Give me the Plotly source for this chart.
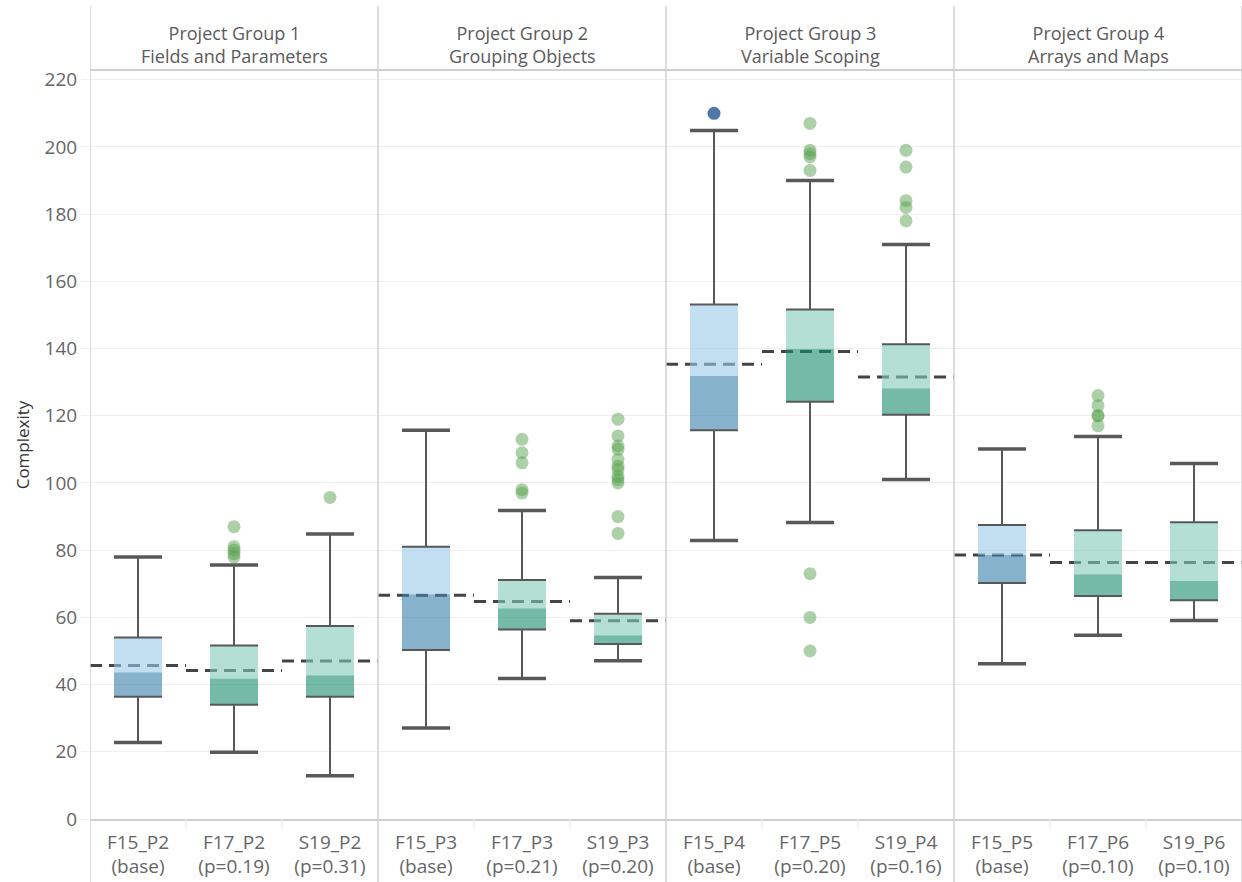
import plotly.graph_objects as go

# ---------------- data ----------------
groups = ["Project Group 1<br>Fields and Parameters",
          "Project Group 2<br>Grouping Objects",
          "Project Group 3<br>Variable Scoping",
          "Project Group 4<br>Arrays and Maps"]
labels = ["F15_P2", "F17_P2", "S19_P2",
          "F15_P3", "F17_P3", "S19_P3",
          "F15_P4", "F17_P5", "S19_P4",
          "F15_P5", "F17_P6", "S19_P6"]
notes = ["(base)", "(p=0.19)", "(p=0.31)",
         "(base)", "(p=0.21)", "(p=0.20)",
         "(base)", "(p=0.20)", "(p=0.16)",
         "(base)", "(p=0.10)", "(p=0.10)"]

lower  = [22.8, 19.9, 12.9, 27.1, 41.8, 47.1,  82.9,  88.2, 101.0, 46.2, 54.7, 59.1]
q1     = [36.4, 34.0, 36.4, 50.3, 56.4, 52.1, 115.7, 124.2, 120.3, 70.2, 66.4, 65.1]
median = [43.7, 41.8, 42.8, 66.9, 62.7, 54.7, 131.9, 139.9, 128.2, 78.6, 72.8, 70.9]
q3     = [54.0, 51.6, 57.4, 81.0, 71.1, 61.1, 153.1, 151.6, 141.3, 87.5, 85.9, 88.3]
upper  = [78.0, 75.6, 84.8, 115.7, 91.8, 71.9, 204.9, 190.0, 171.0, 110.1, 113.8, 105.8]
mean   = [45.7, 44.2, 47.0, 66.6, 64.7, 59.0, 135.3, 139.1, 131.5, 78.6, 76.3, 76.3]

outliers = [
    [],
    [87, 81, 80, 79, 78],
    [95.7],
    [],
    [113, 109, 106, 98, 97],
    [119, 114, 111, 110, 107, 105, 104, 102, 101, 100, 90, 85],
    [210],
    [207, 199, 198, 197, 193, 73, 60, 50],
    [199, 194, 184, 182, 178],
    [],
    [126, 123, 120, 120, 117],
    [],
]

# ---------------- styling ----------------
FONT = "'Open Sans', Lato, sans-serif"
BLUE_LIGHT = "rgba(153,202,233,0.6)"
BLUE_DARK = "rgba(53,127,170,0.6)"
TEAL_LIGHT = "rgba(128,202,185,0.6)"
TEAL_DARK = "rgba(25,138,112,0.6)"
LINE = "#585858"
HALF = 0.25

n = len(labels)
xs = list(range(n))
is_base = [t == "(base)" for t in notes]

fig = go.Figure()

# mean dashed lines (below boxes)
mx, my = [], []
for i in xs:
    mx += [i - 0.5, i + 0.5, None]
    my += [mean[i], mean[i], None]
fig.add_trace(go.Scatter(x=mx, y=my, mode="lines",
                         line=dict(color="#444444", width=3, dash="12px,7px"),
                         hoverinfo="skip", showlegend=False))


def polys(idx, lo, hi):
    px, py = [], []
    for i in idx:
        px += [i - HALF, i + HALF, i + HALF, i - HALF, i - HALF, None]
        py += [lo[i], lo[i], hi[i], hi[i], lo[i], None]
    return px, py


base_idx = [i for i in xs if is_base[i]]
other_idx = [i for i in xs if not is_base[i]]
for idx, dark, light in [(base_idx, BLUE_DARK, BLUE_LIGHT), (other_idx, TEAL_DARK, TEAL_LIGHT)]:
    px, py = polys(idx, q1, median)
    fig.add_trace(go.Scatter(x=px, y=py, mode="lines", fill="toself", fillcolor=dark,
                             line=dict(width=0), hoverinfo="skip", showlegend=False))
    px, py = polys(idx, median, q3)
    fig.add_trace(go.Scatter(x=px, y=py, mode="lines", fill="toself", fillcolor=light,
                             line=dict(width=0), hoverinfo="skip", showlegend=False))

# whiskers
wx, wy = [], []
for i in xs:
    wx += [i, i, None, i, i, None]
    wy += [q3[i], upper[i], None, lower[i], q1[i], None]
fig.add_trace(go.Scatter(x=wx, y=wy, mode="lines", line=dict(color=LINE, width=2),
                         hoverinfo="skip", showlegend=False))

# caps
cx, cy = [], []
for i in xs:
    cx += [i - HALF, i + HALF, None, i - HALF, i + HALF, None]
    cy += [upper[i], upper[i], None, lower[i], lower[i], None]
fig.add_trace(go.Scatter(x=cx, y=cy, mode="lines", line=dict(color=LINE, width=3.5),
                         hoverinfo="skip", showlegend=False))

# box edges
ex, ey = [], []
for i in xs:
    ex += [i - HALF, i + HALF, None, i - HALF, i + HALF, None]
    ey += [q1[i], q1[i], None, q3[i], q3[i], None]
fig.add_trace(go.Scatter(x=ex, y=ey, mode="lines", line=dict(color=LINE, width=2),
                         hoverinfo="skip", showlegend=False))

# outliers
ox_g, oy_g, ox_b, oy_b = [], [], [], []
for i in xs:
    for v in outliers[i]:
        if is_base[i]:
            ox_b.append(i); oy_b.append(v)
        else:
            ox_g.append(i); oy_g.append(v)
fig.add_trace(go.Scatter(x=ox_g, y=oy_g, mode="markers",
                         marker=dict(size=13, color="#59a14f", opacity=0.5, line=dict(width=0)),
                         hoverinfo="skip", showlegend=False))
fig.add_trace(go.Scatter(x=ox_b, y=oy_b, mode="markers",
                         marker=dict(size=13, color="#4e79a7", line=dict(width=0)),
                         hoverinfo="skip", showlegend=False))

# panel headers and dividers
GRID = "#d0d0d0"
shapes = []
for g in range(len(groups) + 1):
    shapes.append(dict(type="line", xref="x", yref="paper",
                       x0=3 * g - 0.5, x1=3 * g - 0.5, y0=-0.085, y1=1.087,
                       line=dict(color=GRID, width=1.5), layer="above"))
# faint separators between categories in the label strip
for i in xs[1:]:
    if i % 3:
        shapes.append(dict(type="line", xref="x", yref="paper",
                           x0=i - 0.5, x1=i - 0.5, y0=-0.016, y1=0,
                           line=dict(color="#ececec", width=1), layer="above"))
annotations = []
for g, name in enumerate(groups):
    annotations.append(dict(x=3 * g + 1, y=1, xref="x", yref="paper",
                            yanchor="bottom", yshift=1, text=name, showarrow=False,
                            font=dict(family=FONT, size=18, color="#5a5a5a")))

fig.update_layout(
    width=1242, height=882,
    margin=dict(l=90, r=0, t=71, b=63),
    plot_bgcolor="white", paper_bgcolor="white",
    font=dict(family=FONT, color="#666666"),
    shapes=shapes, annotations=annotations,
    showlegend=False,
)
fig.update_xaxes(
    range=[-0.5, n - 0.5], tickmode="array", tickvals=xs,
    ticktext=[f"{a}<br>{b}" for a, b in zip(labels, notes)],
    tickfont=dict(family=FONT, size=19, color="#666666"),
    ticklabelstandoff=5,
    showgrid=False, zeroline=False, showline=True, mirror=True,
    linecolor=GRID, linewidth=1.5, ticks="", fixedrange=True, automargin=False,
)
fig.update_yaxes(
    range=[0, 222.6], tickmode="array", tickvals=list(range(0, 221, 20)),
    tickfont=dict(family=FONT, size=19, color="#666666"),
    showgrid=True, gridcolor="#efefef", gridwidth=1, zeroline=False,
    showline=False, ticks="outside", ticklen=8, tickcolor="#efefef",
    automargin=False,
    title=dict(text="Complexity", font=dict(family=FONT, size=17, color="#333333"), standoff=10),
)

fig.write_html("out.html", config={"displayModeBar": False},
               post_script="document.body.style.margin='0';")
